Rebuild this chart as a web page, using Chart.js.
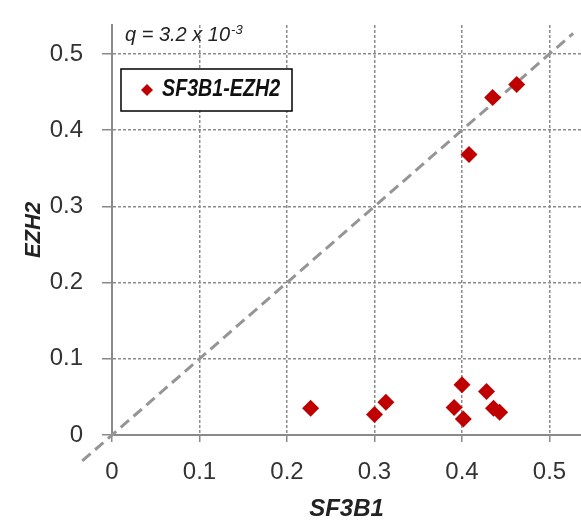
<!DOCTYPE html>
<html lang="en">
<head>
<meta charset="utf-8">
<title>SF3B1 vs EZH2</title>
<script src="https://cdn.jsdelivr.net/npm/chart.js@4.4.1/dist/chart.umd.min.js"></script>
<style>
    html, body { margin: 0; padding: 0; background: #fff; overflow: hidden; }
    canvas { display: block; }
</style>
</head>
<body>
<canvas id="scatter-chart" width="581" height="520"></canvas>
<script>
// Datos
const sf3b1Values = [0.227, 0.300, 0.313, 0.400, 0.391, 0.4015, 0.428, 0.436, 0.443, 0.408, 0.435, 0.4625];
const ezh2Values  = [0.035, 0.027, 0.043, 0.066, 0.036, 0.021, 0.057, 0.035, 0.030, 0.368, 0.443, 0.460];

const xTickValues = [0, 0.1, 0.2, 0.3, 0.4, 0.5];
const xTickLabels = ['0', '0.1', '0.2', '0.3', '0.4', '0.5'];
const yTickValues = [0, 0.1, 0.2, 0.3, 0.4, 0.5];
const yTickLabels = ['0', '0.1', '0.2', '0.3', '0.4', '0.5'];

const xMax = 0.536;
const yMax = 0.538;
const diagonalRange = [-0.034, 0.527];

const seriesLabel = 'SF3B1-EZH2';
const xTitle = 'SF3B1';
const yTitle = 'EZH2';
const qText = 'q = 3.2 x 10';
const qExponent = '-3';

(function() {
    'use strict';

    const FONT = '"Liberation Sans", Arial, sans-serif';
    const AXIS_GRAY = '#8a8a8a';
    const POINT_RED = '#c00000';

    /**
     * Texto q y leyenda con marco
     */
    const annotationPlugin = {
        id: 'annotations',
        afterDatasetsDraw(chart) {
            const { ctx, chartArea } = chart;
            ctx.save();

            // Texto q = ...
            ctx.fillStyle = '#222';
            ctx.textBaseline = 'alphabetic';
            ctx.font = `italic 20px ${FONT}`;
            const qx = chartArea.left + 13;
            ctx.fillText(qText, qx, chartArea.top + 16);
            const qWidth = ctx.measureText(qText).width;
            ctx.font = `italic 13px ${FONT}`;
            ctx.fillText(qExponent, qx + qWidth + 1, chartArea.top + 9);

            // Leyenda
            const box = { x: chartArea.left + 9, y: chartArea.top + 44, w: 171, h: 42 };
            ctx.fillStyle = '#fff';
            ctx.fillRect(box.x, box.y, box.w, box.h);
            ctx.strokeStyle = '#000';
            ctx.lineWidth = 1.5;
            ctx.strokeRect(box.x, box.y, box.w, box.h);

            const mx = box.x + 26;
            const my = box.y + 21;
            const r = 6;
            ctx.fillStyle = POINT_RED;
            ctx.beginPath();
            ctx.moveTo(mx, my - r);
            ctx.lineTo(mx + r, my);
            ctx.lineTo(mx, my + r);
            ctx.lineTo(mx - r, my);
            ctx.closePath();
            ctx.fill();

            // texto estrecho (condensado horizontalmente)
            ctx.fillStyle = '#111';
            ctx.font = `italic bold 24px ${FONT}`;
            ctx.translate(box.x + 41, box.y + 27);
            ctx.scale(0.82, 1);
            ctx.fillText(chart.data.datasets[0].label, 0, 0);

            ctx.restore();
        }
    };

    /**
     * Quitar el relleno automático que Chart.js añade por las etiquetas
     */
    function clearPadding(scale) {
        scale.paddingLeft = 0;
        scale.paddingRight = 0;
        scale.paddingTop = 0;
        scale.paddingBottom = 0;
        if (scale._margins) {
            scale._margins.right = 0;
            scale._margins.top = 0;
        }
    }

    /**
     * Configuración común de ejes
     */
    function axisOptions(max, tickValues, tickLabels, tickLength, padding) {
        return {
            type: 'linear',
            min: 0,
            max: max,
            afterBuildTicks: (scale) => {
                scale.ticks = tickValues.map(v => ({ value: v }));
            },
            ticks: {
                callback: (value, index) => tickLabels[index],
                font: { family: FONT, size: 24 },
                color: '#333',
                padding: padding,
                maxRotation: 0,
                autoSkip: false
            },
            grid: {
                color: '#8c8c8c',
                lineWidth: 1.5,
                tickLength: tickLength,
                tickColor: AXIS_GRAY,
                tickWidth: 1.5
            },
            border: { color: AXIS_GRAY, width: 2, dash: [3, 2] }
        };
    }

    function initChart() {
        const canvas = document.getElementById('scatter-chart');

        const xAxis = axisOptions(xMax, xTickValues, xTickLabels, 7, 16);
        xAxis.afterFit = (scale) => {
            scale.height = 85;
            clearPadding(scale);
        };
        xAxis.title = {
            display: true,
            text: xTitle,
            color: '#222',
            font: { family: FONT, size: 24, weight: 'bold', style: 'italic', lineHeight: 1 },
            padding: { top: 0, bottom: -1.5 }
        };

        const yAxis = axisOptions(yMax, yTickValues, yTickLabels, 10, 19);
        yAxis.afterFit = (scale) => {
            scale.width = 112;
            clearPadding(scale);
        };
        yAxis.title = {
            display: true,
            text: yTitle,
            color: '#222',
            font: { family: FONT, size: 22, weight: 'bold', style: 'italic', lineHeight: 1.2 },
            padding: { top: 21, bottom: 0 }
        };

        // Forzar el borde derecho del área del gráfico al borde del lienzo
        const stretchPlugin = {
            id: 'stretchRight',
            afterLayout(chart) {
                const xScale = chart.scales.x;
                const right = chart.width;
                if (chart.chartArea.right !== right) {
                    chart.chartArea.right = right;
                    chart.chartArea.width = right - chart.chartArea.left;
                    xScale.right = right;
                    xScale.width = right - xScale.left;
                    xScale.configure();
                }
            }
        };

        new Chart(canvas, {
            type: 'scatter',
            data: {
                datasets: [{
                    label: seriesLabel,
                    data: sf3b1Values.map((x, i) => ({ x: x, y: ezh2Values[i] })),
                    pointStyle: 'rectRot',
                    pointRadius: 8.5,
                    pointHoverRadius: 8.5,
                    backgroundColor: POINT_RED,
                    borderColor: POINT_RED,
                    borderWidth: 0
                }, {
                    label: 'y = x',
                    data: diagonalRange.map(v => ({ x: v, y: v })),
                    showLine: true,
                    pointRadius: 0,
                    borderColor: '#959595',
                    borderWidth: 3,
                    borderDash: [11, 6],
                    clip: false
                }]
            },
            options: {
                responsive: false,
                animation: false,
                layout: { padding: { top: 25, right: 0, left: 0, bottom: 0 } },
                plugins: {
                    legend: { display: false },
                    tooltip: { enabled: false }
                },
                scales: { x: xAxis, y: yAxis }
            },
            plugins: [stretchPlugin, annotationPlugin]
        });
    }

    document.addEventListener('DOMContentLoaded', initChart);
})();
</script>
</body>
</html>
